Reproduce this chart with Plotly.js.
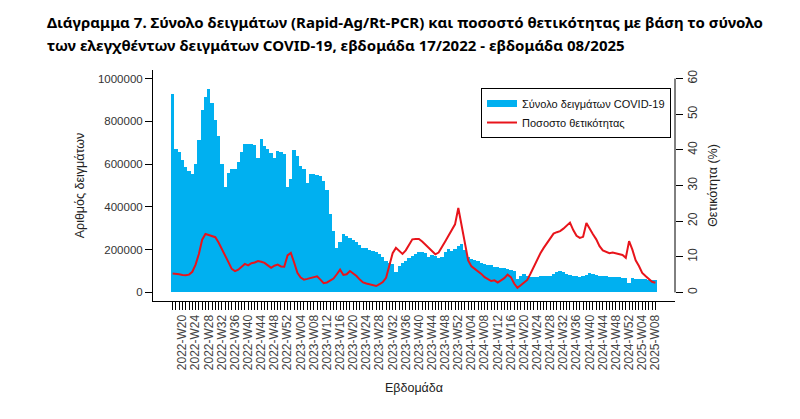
<!DOCTYPE html>
<html>
<head>
<meta charset="utf-8">
<script src="https://cdn.plot.ly/plotly-3.0.1.min.js"></script>
<style>html,body{margin:0;padding:0;background:#fff;}#chart{width:800px;height:419px;}</style>
</head>
<body>
<div id="chart"></div>
<script>
// Weeks 2022-W17 .. 2025-W08 (category labels)
const yearSpans = [[2022, 17, 52], [2023, 1, 52], [2024, 1, 52], [2025, 1, 8]];
const weeks = [];
yearSpans.forEach(([y, a, b]) => { for (let w = a; w <= b; w++) weeks.push(y + '-W' + String(w).padStart(2, '0')); });

// Labelled ticks (every 4th week)
const tickLabels = [
  '2022-W20','2022-W24','2022-W28','2022-W32','2022-W36','2022-W40','2022-W44','2022-W48','2022-W52',
  '2023-W04','2023-W08','2023-W12','2023-W16','2023-W20','2023-W24','2023-W28','2023-W32','2023-W36',
  '2023-W40','2023-W44','2023-W48','2023-W52',
  '2024-W04','2024-W08','2024-W12','2024-W16','2024-W20','2024-W24','2024-W28','2024-W32','2024-W36',
  '2024-W40','2024-W44','2024-W48','2024-W52',
  '2025-W04','2025-W08'
];

// Total samples (Rapid-Ag + RT-PCR) per week
const totalSamples = [
  930000, 670000, 655000, 618000, 588000, 568000, 553000, 600000, 713000, 852000,
  913000, 953000, 884000, 805000, 730000, 602000, 492000, 558000, 576000, 578000,
  612000, 657000, 693000, 695000, 692000, 688000, 629000, 717000, 684000, 672000,
  650000, 629000, 660000, 655000, 645000, 493000, 530000, 668000, 638000, 590000,
  575000, 512000, 556000, 556000, 548000, 545000, 520000, 478000, 369000, 287000,
  209000, 238000, 271000, 262000, 256000, 247000, 234000, 220000, 206000, 208000,
  198000, 193000, 188000, 179000, 164000, 149000, 140000, 132000, 95000, 125000,
  136000, 145000, 160000, 172000, 182000, 188000, 189000, 184000, 168000, 174000,
  170000, 160000, 166000, 190000, 205000, 196000, 202000, 216000, 228000, 200000,
  165000, 157000, 151000, 145000, 138000, 133000, 130000, 127000, 121000, 118000,
  116000, 113000, 109000, 106000, 100000, 62000, 78000, 85000, 78000, 70000,
  73000, 74000, 75000, 75000, 76000, 77000, 86000, 95000, 98000, 95000,
  87000, 80000, 76000, 75000, 74000, 75000, 80000, 92000, 86000, 81000,
  79000, 77000, 75000, 73000, 73000, 71000, 70000, 69000, 68000, 45000,
  66000, 64000, 63000, 62000, 61000, 59000, 58000, 57000
];

// Positivity rate (%)
const positivity = [
  5.3, 5.3, 5.1, 4.9, 4.8, 5.0, 5.8, 7.8, 10.8, 14.8,
  16.4, 16.1, 15.9, 15.5, 14.0, 12.3, 10.6, 8.5, 6.6, 6.0,
  6.4, 7.3, 8.0, 7.6, 8.2, 8.4, 8.8, 8.6, 8.3, 7.6,
  6.9, 7.5, 7.8, 7.3, 7.2, 10.4, 11.1, 8.4, 5.5, 4.2,
  3.6, 3.8, 4.0, 4.4, 4.5, 3.6, 2.6, 2.8, 3.3, 3.9,
  5.1, 6.4, 4.9, 5.1, 6.0, 5.3, 4.6, 3.6, 2.8, 2.5,
  2.2, 2.0, 1.8, 2.3, 2.9, 4.1, 7.5, 11.0, 12.5, 11.6,
  10.8, 11.8, 13.3, 14.9, 15.0, 15.0, 14.3, 13.4, 12.5, 11.6,
  10.7, 11.2, 12.6, 14.3, 15.9, 17.4, 19.1, 23.7, 18.6, 13.0,
  9.0, 7.3, 6.6, 6.0, 5.2, 4.3, 3.7, 3.2, 3.4, 2.8,
  3.4, 4.0, 5.0, 4.3, 2.5, 1.3, 2.0, 2.8, 3.5, 5.3,
  7.3, 9.2, 11.0, 12.5, 13.9, 15.2, 16.5, 16.9, 17.2, 17.9,
  18.8, 19.6, 17.5, 15.9, 15.3, 15.6, 19.5, 17.8, 16.3, 14.9,
  13.0, 11.8, 11.5, 11.0, 11.2, 11.0, 10.8, 10.5, 9.7, 14.4,
  12.0, 9.0, 7.4, 5.5, 4.6, 3.7, 3.0, 2.7
];

const leftTicks = [0, 200000, 400000, 600000, 800000, 1000000];
const rightTicks = [0, 10, 20, 30, 40, 50, 60];

const BLUE = '#00B0F0';
const RED = '#E8141B';
const axisFont = {family: 'Liberation Sans, Arial, sans-serif', size: 11.5, color: '#333'};

const traces = [
  {type: 'bar', x: weeks, y: totalSamples, marker: {color: BLUE, line: {width: 0}},
   showlegend: false, hoverinfo: 'x+y', name: 'Σύνολο δειγμάτων COVID-19'},
  {type: 'scatter', mode: 'lines', x: [null], y: [null], line: {color: BLUE, width: 7},
   name: 'Σύνολο δειγμάτων COVID-19', showlegend: true, hoverinfo: 'skip'},
  {type: 'scatter', mode: 'lines', x: weeks, y: positivity, yaxis: 'y2',
   line: {color: RED, width: 2}, name: 'Ποσοστο θετικότητας'}
];

const layout = {
  width: 800, height: 419,
  margin: {l: 153, r: 125, t: 70, b: 118, pad: 0},
  paper_bgcolor: '#fff', plot_bgcolor: '#fff',
  bargap: 0,
  font: axisFont,
  xaxis: {
    type: 'category', range: [-5.97, 152.98], fixedrange: true,
    tickmode: 'array', tickvals: weeks,
    ticktext: weeks.map(w => tickLabels.includes(w) ? w : ''),
    tickangle: -90, ticks: 'outside', ticklen: 8, tickwidth: 1, tickcolor: '#000',
    tickfont: {family: 'Liberation Sans, Arial, sans-serif', size: 12, color: '#444'},
    showline: true, linecolor: '#000', linewidth: 1, showgrid: false, zeroline: false,
    title: {text: 'Εβδομάδα', font: {family: 'Liberation Sans, Arial, sans-serif', size: 12.5, color: '#222'}, standoff: 14}
  },
  yaxis: {
    range: [-40000, 1040000], fixedrange: true,
    tickmode: 'array', tickvals: leftTicks, ticktext: leftTicks.map(String),
    ticks: 'outside', ticklen: 7, tickwidth: 1, tickcolor: '#000',
    tickfont: axisFont,
    showline: true, linecolor: '#000', linewidth: 1, showgrid: false, zeroline: false,
    title: {text: 'Αριθμός δειγμάτων', font: {family: 'Liberation Sans, Arial, sans-serif', size: 12.5, color: '#222'}, standoff: 10}
  },
  yaxis2: {
    overlaying: 'y', side: 'right', range: [-2.4, 62.4], fixedrange: true,
    tickmode: 'array', tickvals: rightTicks, ticktext: rightTicks.map(String),
    tickangle: -90, ticks: 'outside', ticklen: 7, tickwidth: 1, tickcolor: '#000',
    tickfont: {family: 'Liberation Sans, Arial, sans-serif', size: 12, color: '#333'},
    showline: false, showgrid: false, zeroline: false,
    title: {text: 'Θετικότητα (%)', font: {family: 'Liberation Sans, Arial, sans-serif', size: 12.5, color: '#222'}, standoff: 8}
  },
  shapes: [
    {type: 'line', xref: 'paper', x0: 1, x1: 1, yref: 'y2', y0: 0, y1: 60, line: {color: '#000', width: 1}}
  ],
  legend: {
    x: 0.6284, y: 0.922, xanchor: 'left', yanchor: 'top',
    bgcolor: '#fff', bordercolor: '#000', borderwidth: 1,
    font: {family: 'Liberation Sans, Arial, sans-serif', size: 11, color: '#111'},
    traceorder: 'normal', tracegroupgap: 0
  },
  annotations: [
    {xref: 'paper', yref: 'paper', x: -0.2069, y: 1.2078, xanchor: 'left', yanchor: 'middle', showarrow: false,
     text: '<b>Διάγραμμα 7. Σύνολο δειγμάτων (Rapid-Ag/Rt-PCR) και ποσοστό θετικότητας με βάση το σύνολο</b>',
     font: {family: 'Noto Sans, Open Sans, sans-serif', size: 15, color: '#000'}},
    {xref: 'paper', yref: 'paper', x: -0.2069, y: 1.1082, xanchor: 'left', yanchor: 'middle', showarrow: false,
     text: '<b>των ελεγχθέντων δειγμάτων COVID-19, εβδομάδα 17/2022 - εβδομάδα 08/2025</b>',
     font: {family: 'Noto Sans, Open Sans, sans-serif', size: 15, color: '#000'}}
  ]
};

Plotly.newPlot('chart', traces, layout, {staticPlot: true, displayModeBar: false});
</script>
</body>
</html>
